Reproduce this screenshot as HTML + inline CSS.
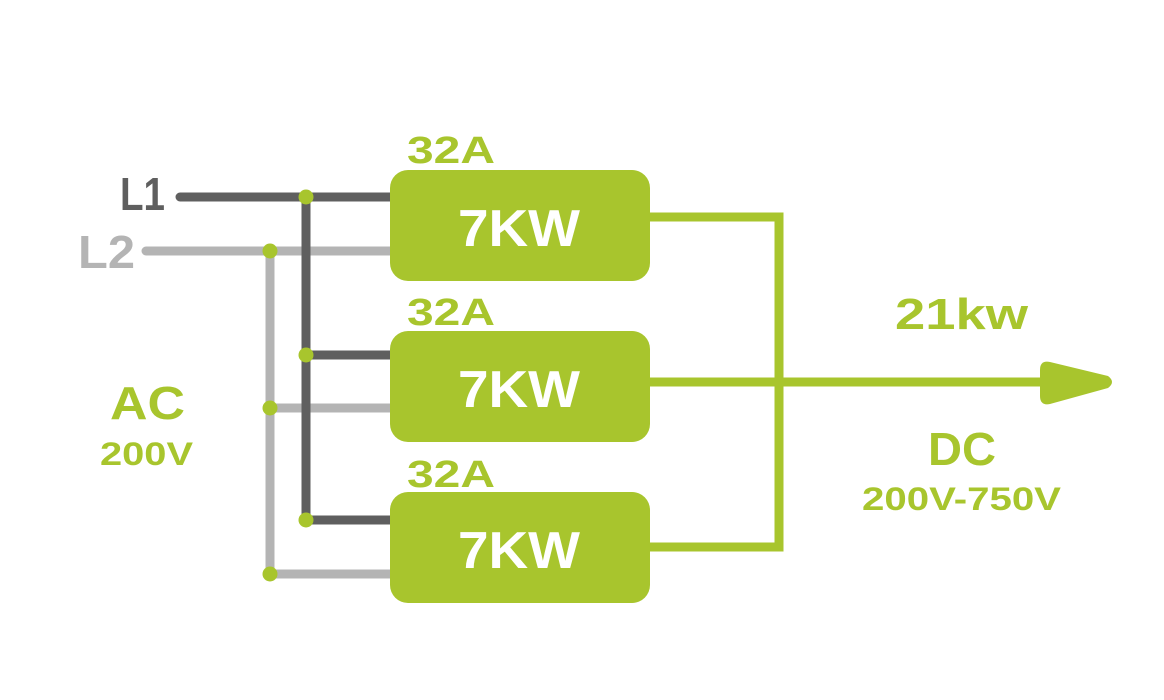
<!DOCTYPE html>
<html><head><meta charset="utf-8"><style>
html,body{margin:0;padding:0;background:#fff;}
svg{display:block;}
text{font-family:"Liberation Sans",sans-serif;font-weight:bold;}
</style></head><body>
<svg width="1164" height="700" viewBox="0 0 1164 700">
<g stroke-width="9" fill="none" stroke-linecap="round">
<path d="M146 251 H390 M270 251 V574 M270 408 H390 M270 574 H390" stroke="#b4b4b4"/>
<path d="M180 197 H390 M306 197 V520 M306 355 H390 M306 520 H390" stroke="#5f5f5f"/>
<path d="M650 217 H779 V547 H650 M650 382 H1050" stroke="#a8c52d" stroke-linecap="butt"/>
</g>
<path d="M1040 370 Q1040 360 1050 362 L1108 376 Q1116 382 1108 388 L1050 404 Q1040 406 1040 396 Z" fill="#a8c52d"/>
<g fill="#a8c52d">
<circle cx="306" cy="197" r="7.5"/><circle cx="306" cy="355" r="7.5"/><circle cx="306" cy="520" r="7.5"/>
<circle cx="270" cy="251" r="7.5"/><circle cx="270" cy="408" r="7.5"/><circle cx="270" cy="574" r="7.5"/>
<rect x="390" y="170" width="260" height="111" rx="18"/>
<rect x="390" y="331" width="260" height="111" rx="18"/>
<rect x="390" y="492" width="260" height="111" rx="18"/>
</g>
<g fill="#a8c52d" font-size="38" lengthAdjust="spacingAndGlyphs">
<text x="407" y="163" textLength="88" lengthAdjust="spacingAndGlyphs">32A</text>
<text x="407" y="325" textLength="88" lengthAdjust="spacingAndGlyphs">32A</text>
<text x="407" y="487" textLength="88" lengthAdjust="spacingAndGlyphs">32A</text>
</g>
<g fill="#fff" font-size="52">
<text x="458" y="246" textLength="122" lengthAdjust="spacingAndGlyphs">7KW</text>
<text x="458" y="407" textLength="122" lengthAdjust="spacingAndGlyphs">7KW</text>
<text x="458" y="568" textLength="122" lengthAdjust="spacingAndGlyphs">7KW</text>
</g>
<text x="120" y="210" font-size="46" fill="#5f5f5f" textLength="45" lengthAdjust="spacingAndGlyphs">L1</text>
<text x="78" y="268" font-size="46" fill="#b4b4b4" textLength="57" lengthAdjust="spacingAndGlyphs">L2</text>
<g fill="#a8c52d">
<text x="110" y="419" font-size="46" textLength="75" lengthAdjust="spacingAndGlyphs">AC</text>
<text x="100" y="465" font-size="32" textLength="93" lengthAdjust="spacingAndGlyphs">200V</text>
<text x="895" y="329" font-size="44" textLength="133" lengthAdjust="spacingAndGlyphs">21kw</text>
<text x="928" y="465" font-size="46" textLength="68" lengthAdjust="spacingAndGlyphs">DC</text>
<text x="862" y="510" font-size="32" textLength="199" lengthAdjust="spacingAndGlyphs">200V-750V</text>
</g>
</svg>
</body></html>
